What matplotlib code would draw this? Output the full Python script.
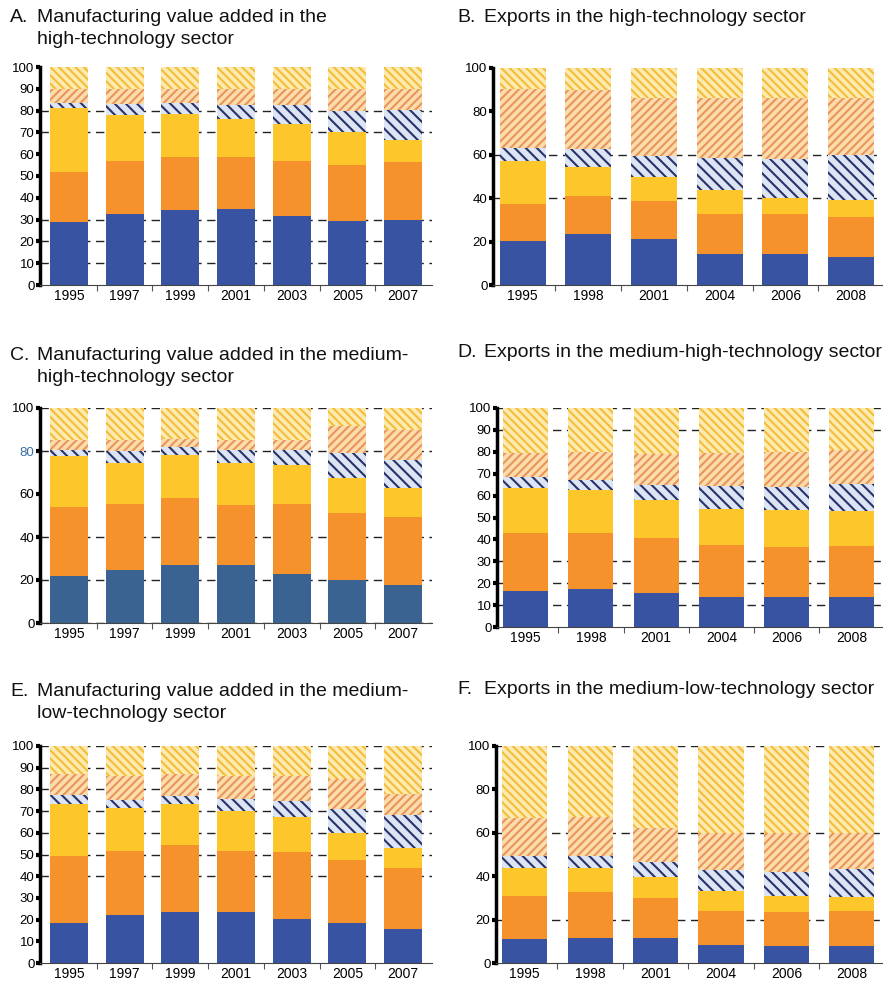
import numpy as np
import matplotlib.pyplot as plt

plt.rcParams['font.family'] = ['Liberation Sans', 'DejaVu Sans']
plt.rcParams['hatch.linewidth'] = 1.5

W, H = 888, 985

# A. Manufacturing value added, high-technology sector (% shares)
years_a = ['1995', '1997', '1999', '2001', '2003', '2005', '2007']
a_blue = [29, 32.5, 34.5, 35, 31.5, 29.5, 30]
a_orange = [23, 24.5, 24, 23.5, 25.5, 25.5, 26.5]
a_yellow = [29, 21, 20, 17.5, 17, 15, 10]
a_navy_h = [2.5, 5, 5, 6.5, 8.5, 10, 14]
a_orange_h = [6.5, 7, 6.5, 7.5, 7.5, 10, 9.5]
a_yellow_h = [10, 10, 10, 10, 10, 10, 10]

# B. Exports, high-technology sector
years_b = ['1995', '1998', '2001', '2004', '2006', '2008']
b_blue = [20.5, 23.5, 21, 14.5, 14.5, 13]
b_orange = [17, 17.5, 17.5, 18, 18, 18.5]
b_yellow = [19.5, 13.5, 11.5, 11.5, 7.5, 7.5]
b_navy_h = [6, 8, 9.5, 14.5, 18, 21]
b_orange_h = [27.5, 27.5, 26.5, 27.5, 28, 26]
b_yellow_h = [9.5, 10, 14, 14, 14, 14]

# C. Manufacturing value added, medium-high-technology sector
years_c = ['1995', '1997', '1999', '2001', '2003', '2005', '2007']
c_blue = [22, 24.5, 27, 27, 23, 20, 17.5]
c_orange = [32, 31, 31, 28, 32.5, 31, 32]
c_yellow = [23.5, 19, 20, 19.5, 18, 16.5, 13.5]
c_navy_h = [3, 5.5, 4, 6, 7, 11.5, 13]
c_orange_h = [4.5, 5, 3.5, 4.5, 4.5, 12.5, 14]
c_yellow_h = [15, 15, 14.5, 15, 15, 8.5, 10]

# D. Exports, medium-high-technology sector
years_d = ['1995', '1998', '2001', '2004', '2006', '2008']
d_blue = [16.5, 17.5, 15.5, 13.5, 13.5, 13.5]
d_orange = [26.5, 25.5, 25, 24, 23, 23.5]
d_yellow = [20.5, 19.5, 17.5, 16.5, 17, 16]
d_navy_h = [5, 4.5, 7, 10.5, 10.5, 12.5]
d_orange_h = [11, 13, 14, 15, 16, 15.5]
d_yellow_h = [20.5, 20, 21, 20.5, 20, 19]

# E. Manufacturing value added, medium-low-technology sector
years_e = ['1995', '1997', '1999', '2001', '2003', '2005', '2007']
e_blue = [18.5, 22, 23.5, 23.5, 20.5, 18.5, 15.5]
e_orange = [31, 29.5, 31, 28, 30.5, 29, 28.5]
e_yellow = [24, 20, 19, 18.5, 16.5, 12.5, 9]
e_navy_h = [4, 3.5, 3.5, 5.5, 7, 11, 15]
e_orange_h = [9.5, 11, 10, 10.5, 11.5, 14, 10]
e_yellow_h = [13, 14, 13, 14, 14, 15, 22]

# F. Exports, medium-low-technology sector
years_f = ['1995', '1998', '2001', '2004', '2006', '2008']
f_blue = [11, 11.5, 11.5, 8.5, 8, 8]
f_orange = [20, 21, 18.5, 15.5, 15.5, 16]
f_yellow = [13, 11.5, 9.5, 9, 7.5, 6.5]
f_navy_h = [5.5, 5.5, 7, 10, 11, 13]
f_orange_h = [17.5, 18, 15.5, 17, 18, 16.5]
f_yellow_h = [33, 32.5, 38, 40, 40, 40]

# fill / hatch style for the six stacked segments, bottom to top
seg_styles = [
    dict(facecolor='#3953a3', edgecolor='#3953a3', hatch=None),
    dict(facecolor='#f5922c', edgecolor='#f5922c', hatch=None),
    dict(facecolor='#fdc72c', edgecolor='#fdc72c', hatch=None),
    dict(facecolor='#dde4f3', edgecolor='#26346a', hatch='\\\\\\'),
    dict(facecolor='#fcdcaa', edgecolor='#e8955c', hatch='////'),
    dict(facecolor='#fdeab0', edgecolor='#f3bd3a', hatch='\\\\\\\\'),
]


def px_axes(fig, left, top, right, bottom):
    return fig.add_axes([left / W, 1 - bottom / H, (right - left) / W, (bottom - top) / H])


def draw_panel(ax, years, series, yticks, grid_levels, width, xlim, base_blue=None):
    x = np.arange(len(years))
    bottom = np.zeros(len(years))
    for i, (vals, st) in enumerate(zip(series, seg_styles)):
        fc, ec = st['facecolor'], st['edgecolor']
        if i == 0 and base_blue:
            fc = ec = base_blue
        ax.bar(x, vals, width, bottom=bottom, facecolor=fc, edgecolor=ec,
               hatch=st['hatch'], linewidth=0, zorder=2)
        bottom += np.array(vals)
    for lv in grid_levels:
        ax.axhline(lv, color='#222222', lw=1.0, ls=(0, (6, 4)), zorder=1)
    ax.set_xlim(*xlim)
    ax.set_ylim(0, 100)
    ax.set_xticks(x)
    ax.set_xticklabels(years, fontsize=10)
    ax.set_xticks(x[:-1] + 0.5, minor=True)
    ax.tick_params(axis='x', which='major', length=0, pad=3)
    ax.tick_params(axis='x', which='minor', length=4, width=0.8, color='#555555')
    ax.set_yticks(yticks)
    ax.set_yticklabels([str(t) for t in yticks], fontsize=9.5)
    ax.tick_params(axis='y', length=3, width=3, pad=1)
    for s in ('top', 'right'):
        ax.spines[s].set_visible(False)
    ax.spines['left'].set_linewidth(2.5)
    ax.spines['bottom'].set_linewidth(0.8)
    ax.spines['bottom'].set_color('#444444')


fig = plt.figure(figsize=(W / 100, H / 100), dpi=100)

ax_a = px_axes(fig, 40, 67, 432, 285)
draw_panel(ax_a, years_a, [a_blue, a_orange, a_yellow, a_navy_h, a_orange_h, a_yellow_h],
           list(range(0, 101, 10)), [10, 20, 30, 70, 80], 0.68, (-0.52, 6.52))

ax_b = px_axes(fig, 493, 68, 882, 285)
draw_panel(ax_b, years_b, [b_blue, b_orange, b_yellow, b_navy_h, b_orange_h, b_yellow_h],
           list(range(0, 101, 20)), [40, 60], 0.70, (-0.45, 5.47))

ax_c = px_axes(fig, 40, 408, 432, 623)
draw_panel(ax_c, years_c, [c_blue, c_orange, c_yellow, c_navy_h, c_orange_h, c_yellow_h],
           list(range(0, 101, 20)), [0, 20, 40, 80, 100], 0.68, (-0.52, 6.52),
           base_blue='#3b6391')
ax_c.get_yticklabels()[4].set_color('#3a6ea5')

ax_d = px_axes(fig, 497, 408, 882, 627)
draw_panel(ax_d, years_d, [d_blue, d_orange, d_yellow, d_navy_h, d_orange_h, d_yellow_h],
           list(range(0, 101, 10)), [10, 20, 30, 90, 100], 0.69, (-0.44, 5.46))

ax_e = px_axes(fig, 40, 746, 432, 963)
draw_panel(ax_e, years_e, [e_blue, e_orange, e_yellow, e_navy_h, e_orange_h, e_yellow_h],
           list(range(0, 101, 10)), [40, 50, 60, 70, 80, 90, 100], 0.68, (-0.52, 6.52))

ax_f = px_axes(fig, 496, 746, 882, 963)
draw_panel(ax_f, years_f, [f_blue, f_orange, f_yellow, f_navy_h, f_orange_h, f_yellow_h],
           list(range(0, 101, 20)), [20, 60, 100], 0.69, (-0.44, 5.46))

# panel titles
title_font = dict(family=['Liberation Sans', 'DejaVu Sans'],
                  fontsize=14, va='center', ha='left', color='#111111')
titles = [
    (10, 37, 18, ['Manufacturing value added in the', 'high-technology sector'], 'A.'),
    (457, 484, 18, ['Exports in the high-technology sector'], 'B.'),
    (10, 37, 356, ['Manufacturing value added in the medium-', 'high-technology sector'], 'C.'),
    (457, 484, 353, ['Exports in the medium-high-technology sector'], 'D.'),
    (10, 37, 691, ['Manufacturing value added in the medium-', 'low-technology sector'], 'E.'),
    (457, 484, 690, ['Exports in the medium-low-technology sector'], 'F.'),
]
for xl, xb, yc, lines, letter in titles:
    fig.text(xl / W, 1 - yc / H, letter, **title_font)
    for k, line in enumerate(lines):
        fig.text(xb / W, 1 - (yc + 22 * k) / H, line, **title_font)

fig.savefig('out.png', dpi=100)
